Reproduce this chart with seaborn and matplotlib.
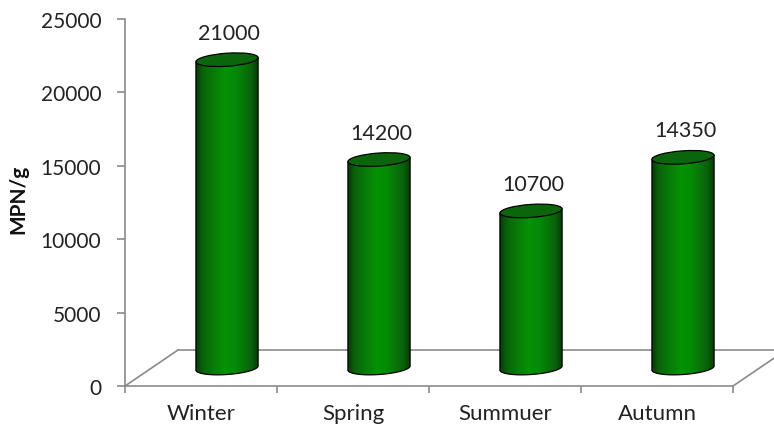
import numpy as np
import pandas as pd
import matplotlib
matplotlib.use("Agg")
import matplotlib.pyplot as plt
import seaborn as sns
from matplotlib import transforms
from matplotlib.patches import Ellipse, PathPatch
from matplotlib.path import Path
from matplotlib.lines import Line2D
from matplotlib.colors import LinearSegmentedColormap

# data
seasons = ["Winter", "Spring", "Summuer", "Autumn"]
mpn = [21000, 14200, 10700, 14350]
yticks = [0, 5000, 10000, 15000, 20000, 25000]

sns.set_theme(style="white")
plt.rcParams["font.family"] = ["Lato", "DejaVu Sans"]

axis_grey = "#8a8a8a"
fig = plt.figure(figsize=(7.74, 4.27), dpi=100)
ax = fig.add_axes([125 / 774, 1 - 387 / 427, 608 / 774, 367 / 427])

df = pd.DataFrame({"season": seasons, "mpn": mpn})
sns.barplot(data=df, x="season", y="mpn", color="#0a8a0a", width=0.41,
            saturation=1, ax=ax, zorder=3, linewidth=0)
ax.set_xlim(-0.5, 3.5)
ax.set_ylim(0, 25000)

# axes styling
sns.despine(ax=ax, top=True, right=True)
for s in ["left", "bottom"]:
    ax.spines[s].set_color(axis_grey)
    ax.spines[s].set_linewidth(1.2)
ax.set_yticks(yticks)
ax.set_yticklabels([str(v) for v in yticks])
ax.tick_params(axis="y", left=True, length=6, width=1.2, color=axis_grey,
               pad=11, labelsize=15, labelcolor="#222222")
ax.set_xticks(range(len(seasons)))
ax.set_xticklabels(seasons)
ax.set_xticks(np.arange(-0.5, len(seasons)), minor=True)
ax.tick_params(axis="x", which="major", length=0, pad=12, labelsize=16,
               labelcolor="#222222")
ax.tick_params(axis="x", which="minor", bottom=True, length=5, width=1.2,
               color=axis_grey)
ax.set_xlabel("")
ax.set_ylabel("MPN/g", fontsize=15, fontweight="bold", color="#111111")
ax.yaxis.set_label_coords(-0.159, 0.51)

# 3d floor
back = transforms.offset_copy(ax.transData, fig=fig, x=53, y=36, units="dots")
ax.plot([-0.5, 3.6], [0, 0], transform=back, color=axis_grey, lw=1.2,
        clip_on=False, zorder=1)
for xe in [-0.5, 3.5]:
    fx, fy = ax.transData.transform((xe, 0))
    fig.add_artist(Line2D([fx, fx + 53], [fy, fy + 36], color=axis_grey, lw=1.2,
                          transform=transforms.IdentityTransform(), zorder=1))

# cylinders
depth = transforms.offset_copy(ax.transData, fig=fig, x=26, y=18, units="dots")
cyl_cmap = LinearSegmentedColormap.from_list("cyl", [
    (0.0, "#083d08"), (0.12, "#0a660a"), (0.45, "#049204"),
    (0.62, "#058a05"), (0.88, "#0a620a"), (1.0, "#073807")])
grad = np.linspace(0, 1, 256).reshape(1, -1)
ident = transforms.IdentityTransform()
b_px, th = 6.5, np.deg2rad(4)

for bar, val in zip(ax.patches, mpn):
    bar.set_transform(depth)
    x0, w, h = bar.get_x(), bar.get_width(), bar.get_height()
    X, Ytop = depth.transform((x0 + w / 2, h))
    _, Ybot = depth.transform((x0 + w / 2, 0))
    xl, _ = depth.transform((x0, 0))
    a = X - xl
    t = np.linspace(np.pi, 2 * np.pi, 60)
    ex = X + a * np.cos(t) * np.cos(th) - b_px * np.sin(t) * np.sin(th)
    ey = Ybot + a * np.cos(t) * np.sin(th) + b_px * np.sin(t) * np.cos(th)
    verts = ([(ex[0], Ytop - a * np.sin(th))] + list(zip(ex, ey))
             + [(ex[-1], Ytop + a * np.sin(th)), (ex[0], Ytop - a * np.sin(th))])
    body = Path(verts, closed=True)
    clip = PathPatch(body, transform=ident, facecolor="none", edgecolor="none")
    ax.add_patch(clip)
    im = ax.imshow(grad, cmap=cyl_cmap, aspect="auto", interpolation="bilinear",
                   extent=[x0, x0 + w, -2000, h], transform=depth, zorder=4)
    im.set_clip_path(clip)
    ax.add_patch(PathPatch(body, transform=ident, facecolor="none",
                           edgecolor="black", lw=0.9, zorder=5))
    ax.add_patch(Ellipse((X, Ytop), 2 * a, 2 * b_px, angle=np.rad2deg(th),
                         transform=ident, facecolor="#0b660b", edgecolor="black",
                         lw=0.9, zorder=6))
    ax.annotate(str(val), (x0 + w / 2, h), xycoords=depth, xytext=(2, 27),
                textcoords="offset pixels", ha="center", va="center",
                fontsize=15.5, color="#222222", zorder=7)

ax.set_xlim(-0.5, 3.5)
ax.set_ylim(0, 25000)
ax.set_aspect("auto")

fig.savefig("out.png", dpi=100)
